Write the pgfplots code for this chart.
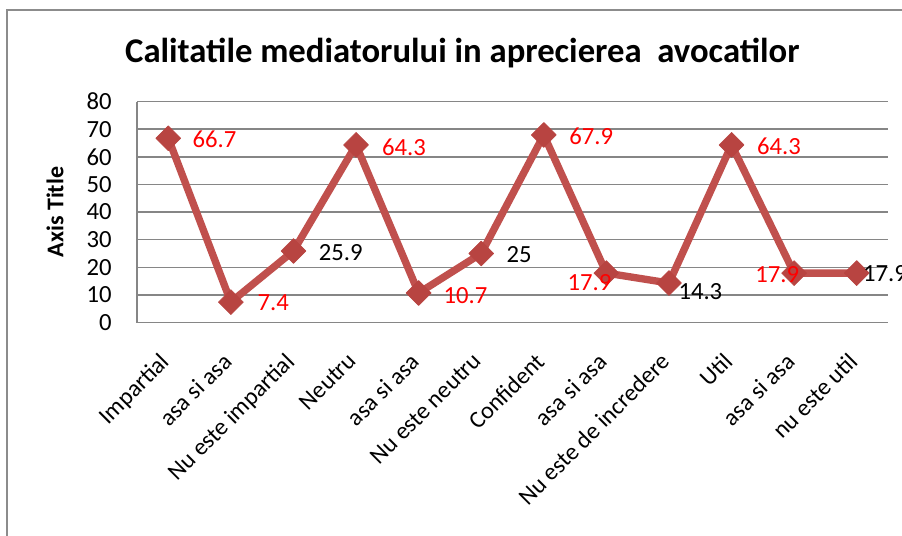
\documentclass[border=0pt]{standalone}
\usepackage{fontspec}
\setmainfont{Carlito}
\usepackage{pgfplots}
\pgfplotsset{compat=1.18}
\usepackage{pgfplotstable}

\definecolor{linered}{RGB}{192,80,77}
\definecolor{markred}{RGB}{184,68,65}
\definecolor{gridgray}{RGB}{134,134,134}
\definecolor{framegray}{RGB}{140,140,140}

\pgfplotstableread{
x y c dx dy
0 66.7 1 18 -0.75
1 7.4 1 19.8 -0.75
2 25.9 0 18.75 -1.5
3 64.3 1 19.3 -1.5
4 10.7 1 18.5 -2.25
5 25 0 18.75 -1.2
6 67.9 1 19 -0.75
7 17.9 1 -29.25 -7.5
8 14.3 0 6.9 -6.75
9 64.3 1 18.9 -0.75
10 17.9 1 -29.25 -1.5
11 17.9 0 4.5 -0.75
}\datatable

\begin{document}
\begin{tikzpicture}
\begin{axis}[
  scale only axis, width=563.25pt, height=165.75pt,
  xmin=-0.5, xmax=11.5, ymin=0, ymax=80,
  xtick={0,...,11},
  xticklabels={Impartial, asa si asa, Nu este impartial, Neutru, asa si asa, Nu este neutru, Confident, asa si asa, Nu este de incredere, Util, asa si asa, nu este util},
  ytick={0,10,...,80},
  major tick length=0pt,
  ymajorgrids, grid style={gridgray, line width=1.1pt},
  axis line style={draw=none},
  /pgf/number format/assume math mode=true,
  yticklabel style={font=\fontsize{18.5}{20}\selectfont, anchor=east, inner sep=0pt, xshift=-18.75pt},
  xticklabel style={font=\fontsize{18}{20}\selectfont, xshift=-7pt, yshift=-21.5pt, rotate=45, anchor=north east, inner sep=0pt},
  ylabel={Axis Title},
  ylabel style={font=\bfseries\fontsize{18}{20}\selectfont, at={(axis description cs:-0.1092,0.5)}, anchor=center},
  clip=false,
]
\draw[gridgray, line width=1.1pt] (rel axis cs:0,0) -- (rel axis cs:0,1);
\addplot[linered, line width=5.5pt, line join=round,
  mark=square*, mark size=6.6pt,
  mark options={rotate=45, fill=markred, draw=markred, line width=0.5pt},
  visualization depends on={\thisrow{dx}\as\dx},
  visualization depends on={\thisrow{dy}\as\dy},
  visualization depends on={\thisrow{c}\as\lc},
  point meta=explicit,
  nodes near coords={\ifdim\lc pt>0.5pt \color{red}\fi\pgfmathprintnumber{\pgfplotspointmeta}},
  every node near coord/.append style={anchor=west, xshift=\dx pt, yshift=\dy pt, inner sep=0pt, text=black, font=\fontsize{18.5}{20}\selectfont},
] table[x=x, y=y, meta=y] \datatable;
\end{axis}
\node[anchor=base, font=\bfseries\fontsize{26}{30}\selectfont] at (244pt,195pt) {Calitatile mediatorului in aprecierea~ avocatilor};
\draw[framegray, line width=1.5pt] (-97.5pt,-170pt) -- (-97.5pt,234.4pt) -- (580pt,234.4pt);
\pgfresetboundingbox
\useasboundingbox (-102.75pt,-159.4pt) rectangle (573.75pt,241.9pt);
\end{tikzpicture}
\end{document}
